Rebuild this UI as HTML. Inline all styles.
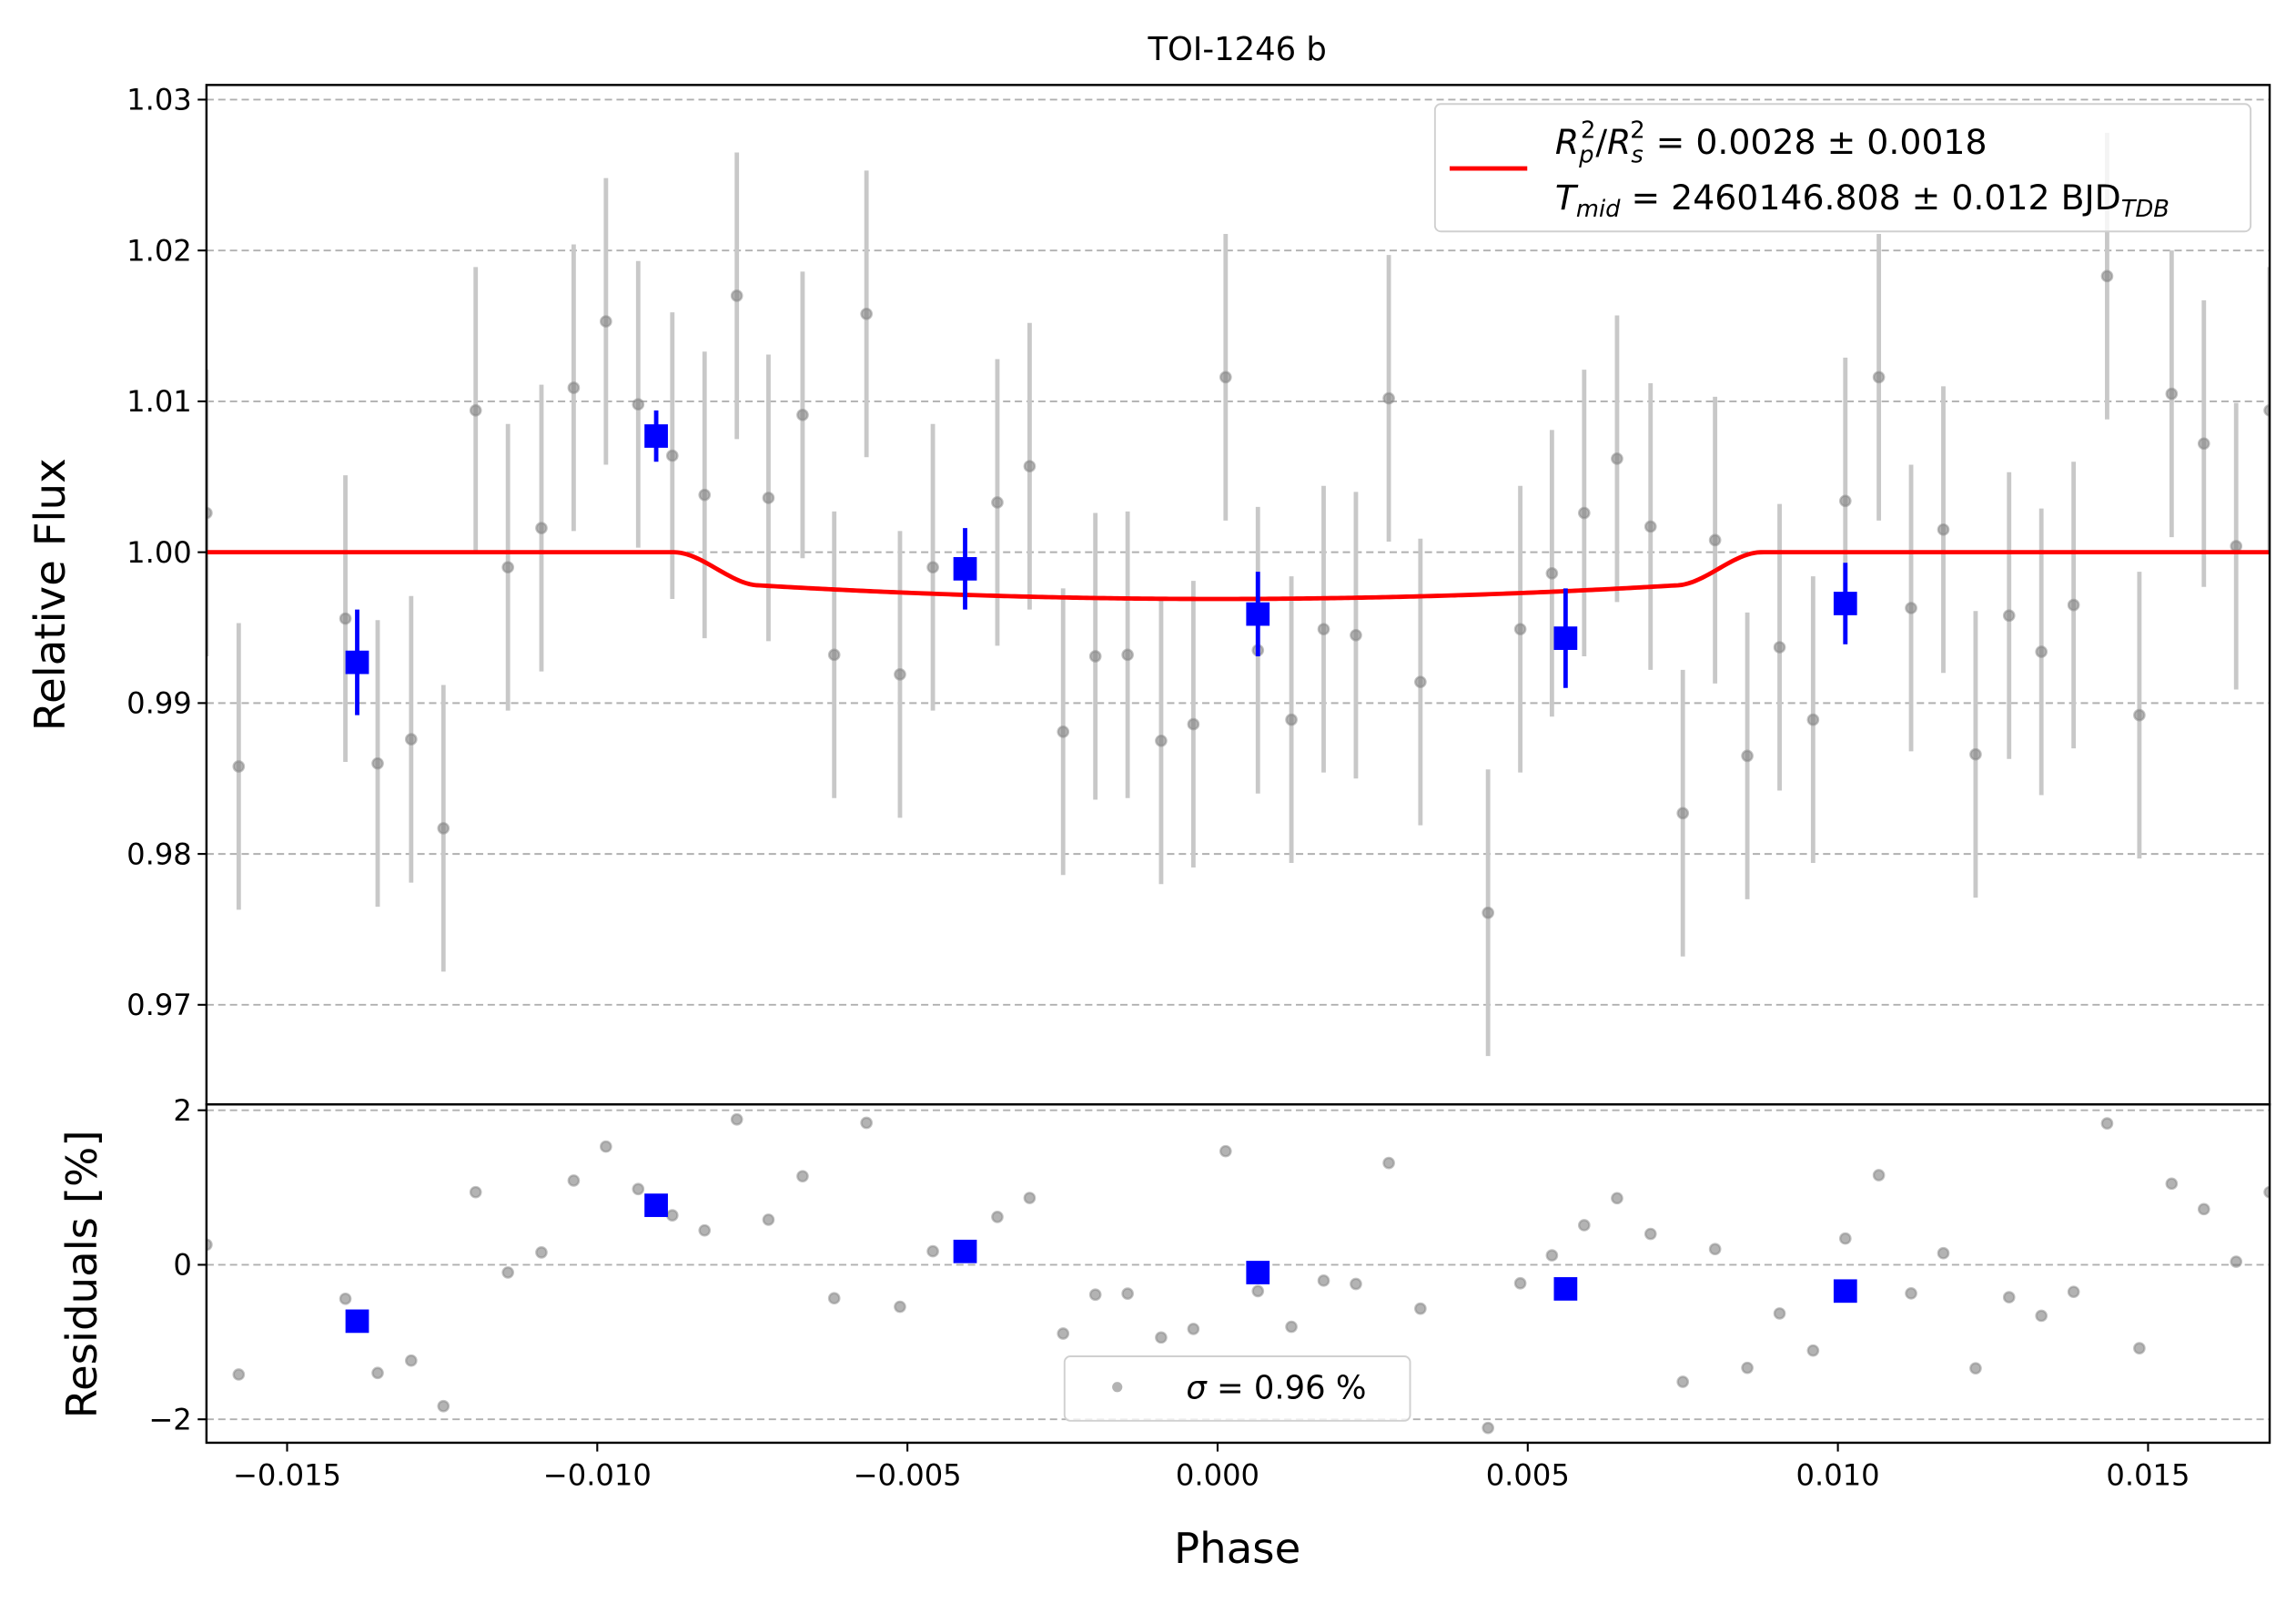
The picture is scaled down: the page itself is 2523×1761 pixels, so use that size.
<!DOCTYPE html>
<html><head><meta charset="utf-8"><style>
html,body{margin:0;padding:0;background:#fff}
svg{display:block;font-family:"DejaVu Sans","Liberation Sans",sans-serif}
</style></head><body>
<svg id="chart" width="2523" height="1761" viewBox="0 0 1568 1094.4" xmlns="http://www.w3.org/2000/svg">
<defs>
<clipPath id="c1"><rect x="141" y="58" width="1409" height="696"/></clipPath>
<clipPath id="c2"><rect x="141" y="754" width="1409" height="231"/></clipPath>
</defs>
<rect width="1568" height="1094.4" fill="#fff"/>
<g id="main"></g>
<g id="resid"></g>
<text x="845" y="41" font-size="22" text-anchor="middle">TOI-1246 b</text>
<text transform="translate(44,406) rotate(-90)" font-size="29" text-anchor="middle">Relative Flux</text>
<text transform="translate(66,870) rotate(-90)" font-size="29" text-anchor="middle">Residuals [%]</text>
<text x="845" y="1067" font-size="29" text-anchor="middle">Phase</text>
</svg>
<script>
const phases=[-0.01630,-0.01578,-0.01406,-0.01354,-0.01300,-0.01248,-0.01196,-0.01144,-0.01090,-0.01038,-0.00986,-0.00934,-0.00879,-0.00827,-0.00775,-0.00724,-0.00669,-0.00618,-0.00566,-0.00512,-0.00459,-0.00355,-0.00303,-0.00249,-0.00197,-0.00145,-0.00091,-0.00039,0.00013,0.00065,0.00119,0.00171,0.00223,0.00276,0.00327,0.00436,0.00488,0.00539,0.00591,0.00644,0.00698,0.00750,0.00802,0.00854,0.00906,0.00960,0.01012,0.01066,0.01118,0.01170,0.01222,0.01276,0.01328,0.01380,0.01434,0.01486,0.01538,0.01590,0.01642,0.01696];
const fluxes=[1.0026,0.9858,0.9956,0.9860,0.9876,0.9817,1.0094,0.9990,1.0016,1.0109,1.0153,1.0098,1.0064,1.0038,1.0170,1.0036,1.0091,0.9932,1.0158,0.9919,0.9990,1.0033,1.0057,0.9881,0.9931,0.9932,0.9875,0.9886,1.0116,0.9935,0.9889,0.9949,0.9945,1.0102,0.9914,0.9761,0.9949,0.9986,1.0026,1.0062,1.0017,0.9827,1.0008,0.9865,0.9937,0.9889,1.0034,1.0116,0.9963,1.0015,0.9866,0.9958,0.9934,0.9965,1.0183,0.9892,1.0105,1.0072,1.0004,1.0094];
const fluxErr=0.0095;
const binPhases=[-0.01387,-0.00905,-0.00407,0.00065,0.00561,0.01012];
const binFlux=[0.9927,1.0077,0.9989,0.9959,0.9943,0.9966];
const binErr=[0.0035,0.0017,0.0027,0.0028,0.0033,0.0027];
const fluxTicks=[0.97,0.98,0.99,1.00,1.01,1.02,1.03];
const fluxTickLabels=["0.97","0.98","0.99","1.00","1.01","1.02","1.03"];
const residTicks=[-2,0,2];
const residTickLabels=["\u22122","0","2"];
const phaseTicks=[-0.015,-0.010,-0.005,0,0.005,0.010,0.015];
const phaseTickLabels=["\u22120.015","\u22120.010","\u22120.005","0.000","0.005","0.010","0.015"];
const transitHalf=0.00877, ingress=0.00139, depthC=0.0031;

const NS="http://www.w3.org/2000/svg";
const X0=141,X1=1550,P0=-0.01630,P1=0.01696;
const sx=p=>X0+(p-P0)/(P1-P0)*(X1-X0);
const sy=f=>377-(f-1)*10300;
const sr=r=>863.5-r*52.75;
function model(p){
  const a=Math.abs(p);
  if(a>=transitHalf) return 1;
  const fe=transitHalf-ingress;
  const d=depthC*(1-0.29*Math.min(a,fe)**2/fe**2);
  if(a<=fe) return 1-d;
  const t=(transitHalf-a)/ingress;
  const s=t*t*(3-2*t);
  return 1-d*s;
}
function el(parent,tag,attrs,name){
  const e=document.createElementNS(NS,tag);
  for(const k in attrs) e.setAttribute(k,attrs[k]);
  
  
  parent.appendChild(e);return e;
}
const main=document.getElementById('main'), resid=document.getElementById('resid');
fluxTicks.forEach((t,i)=>{
  el(main,'line',{x1:X0,x2:X1,y1:sy(t),y2:sy(t),stroke:'#b0b0b0','stroke-width':1.2,'stroke-dasharray':'5,3'},'flux-gridline');
  el(main,'line',{x1:X0-6,x2:X0,y1:sy(t),y2:sy(t),stroke:'#000','stroke-width':1.3},'flux-tick');
  const tx=el(main,'text',{x:X0-10,y:sy(t)+7,'font-size':20,'text-anchor':'end'},'flux-tick-label');tx.textContent=fluxTickLabels[i];
});
residTicks.forEach((t,i)=>{
  el(resid,'line',{x1:X0,x2:X1,y1:sr(t),y2:sr(t),stroke:'#b0b0b0','stroke-width':1.2,'stroke-dasharray':'5,3'},'residual-gridline');
  el(resid,'line',{x1:X0-6,x2:X0,y1:sr(t),y2:sr(t),stroke:'#000','stroke-width':1.3},'residual-tick');
  const tx=el(resid,'text',{x:X0-10,y:sr(t)+7,'font-size':20,'text-anchor':'end'},'residual-tick-label');tx.textContent=residTickLabels[i];
});
phaseTicks.forEach((t,i)=>{
  el(resid,'line',{x1:sx(t),x2:sx(t),y1:985,y2:991,stroke:'#000','stroke-width':1.3},'phase-tick');
  const tx=el(resid,'text',{x:sx(t),y:1014,'font-size':20,'text-anchor':'middle'},'phase-tick-label');tx.textContent=phaseTickLabels[i];
});
const g1=el(main,'g',{'clip-path':'url(#c1)'},'flux-data');
const g2=el(resid,'g',{'clip-path':'url(#c2)'},'residual-data');
phases.forEach((p,i)=>{
  el(g1,'line',{x1:sx(p),x2:sx(p),y1:sy(fluxes[i]-fluxErr),y2:sy(fluxes[i]+fluxErr),stroke:'#c8c8c8','stroke-width':3},'flux-errorbar');
});
phases.forEach((p,i)=>{
  el(g1,'circle',{cx:sx(p),cy:sy(fluxes[i]),r:3.5,fill:'#808080','fill-opacity':0.6,stroke:'#888','stroke-opacity':0.5,'stroke-width':1.5},'flux-point');
  el(g2,'circle',{cx:sx(p),cy:sr((fluxes[i]-model(p))*100),r:3.5,fill:'#808080','fill-opacity':0.6,stroke:'#888','stroke-opacity':0.5,'stroke-width':1.5},'residual-point');
});
let d='';
for(let k=0;k<=600;k++){const p=P0+(P1-P0)*k/600;d+=(k?'L':'M')+sx(p).toFixed(2)+','+sy(model(p)).toFixed(2);}
el(g1,'path',{d:d,fill:'none',stroke:'#ff0000','stroke-width':3},'transit-model-line');
binPhases.forEach((p,i)=>{
  el(g1,'line',{x1:sx(p),x2:sx(p),y1:sy(binFlux[i]-binErr[i]),y2:sy(binFlux[i]+binErr[i]),stroke:'#0000ff','stroke-width':3},'binned-errorbar');
  el(g1,'rect',{x:sx(p)-8,y:sy(binFlux[i])-8,width:16,height:16,fill:'#0000ff'},'binned-point');
  el(g2,'rect',{x:sx(p)-8,y:sr((binFlux[i]-model(p))*100)-8,width:16,height:16,fill:'#0000ff'},'binned-residual');
});
el(main,'rect',{x:X0,y:58,width:X1-X0,height:696,fill:'none',stroke:'#000','stroke-width':1.5},'flux-axes-frame');
el(resid,'rect',{x:X0,y:754,width:X1-X0,height:231,fill:'none',stroke:'#000','stroke-width':1.5},'residual-axes-frame');
const lg=el(main,'g',{},'model-legend');
el(lg,'rect',{x:980,y:71,width:557,height:87,rx:4,fill:'#fff','fill-opacity':0.8,stroke:'#d0d0d0','stroke-width':1.2},'legend-box');
el(lg,'line',{x1:990,x2:1043,y1:115,y2:115,stroke:'#ff0000','stroke-width':3},'legend-line');
const t1=el(lg,'text',{x:1062,y:105,'font-size':23.5},'legend-rp-text');
t1.innerHTML='<tspan font-style="italic">R</tspan><tspan font-size="16" dy="6" font-style="italic">p</tspan><tspan font-size="16" dx="-9" dy="-17">2</tspan><tspan dy="11">/</tspan><tspan font-style="italic">R</tspan><tspan font-size="16" dy="6" font-style="italic">s</tspan><tspan font-size="16" dx="-9" dy="-17">2</tspan><tspan dy="11"> = 0.0028 ± 0.0018</tspan>';
const t2=el(lg,'text',{x:1062,y:143,'font-size':23.5},'legend-tmid-text');
t2.innerHTML='<tspan font-style="italic">T</tspan><tspan font-size="16" dy="5" font-style="italic">mid</tspan><tspan dy="-5"> = 2460146.808 ± 0.012 BJD</tspan><tspan font-size="16" dy="5" font-style="italic">TDB</tspan>';
const lg2=el(resid,'g',{},'sigma-legend');
el(lg2,'rect',{x:727,y:926,width:236,height:44,rx:4,fill:'#fff','fill-opacity':0.8,stroke:'#d0d0d0','stroke-width':1.2},'legend-box');
el(lg2,'circle',{cx:763,cy:947,r:3.5,fill:'#808080','fill-opacity':0.6},'legend-marker');
const t3=el(lg2,'text',{x:810,y:955,'font-size':22},'legend-sigma-text');
t3.innerHTML='<tspan font-style="italic">σ</tspan> = 0.96 %';
</script>
</body></html>
